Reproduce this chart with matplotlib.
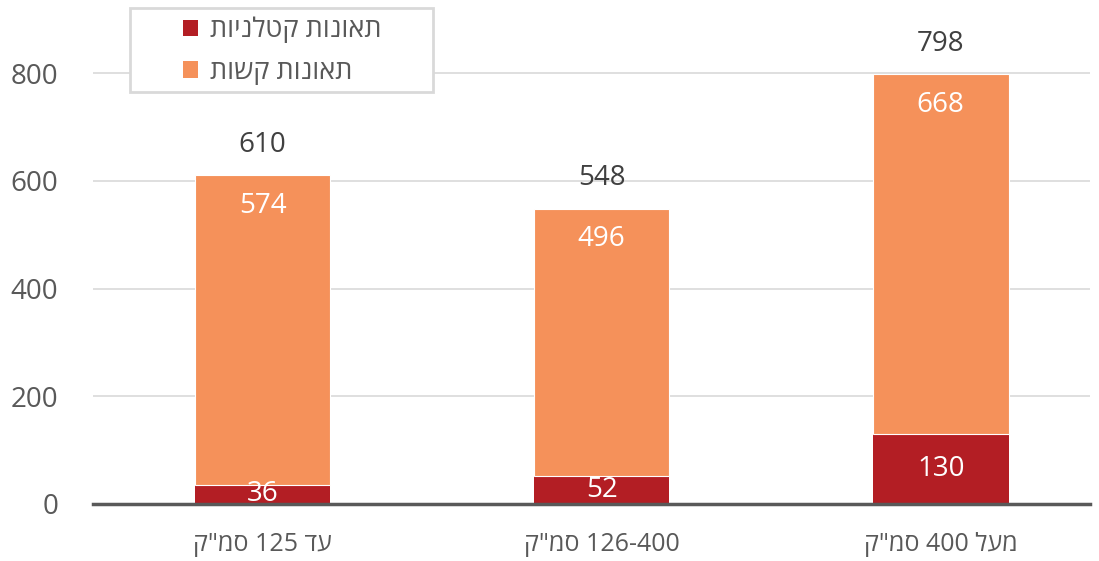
import re
import matplotlib
matplotlib.use("Agg")
import matplotlib.pyplot as plt
from matplotlib.patches import Patch, Rectangle

plt.rcParams['font.family'] = ['Open Sans', 'DejaVu Sans']

categories = ['עד 125 סמ"ק', '126-400 סמ"ק', 'מעל 400 סמ"ק']
fatal = [36, 52, 130]
severe = [574, 496, 668]
totals = [610, 548, 798]
series_names = ['תאונות קטלניות', 'תאונות קשות']
yticks = [0, 200, 400, 600, 800]

RED = '#B31E24'
ORANGE = '#F5915A'
TXT = '#595959'
W, H = 1099, 561


def vis(s):
    toks = re.findall(r'[0-9][0-9\-]*[0-9]|[0-9]|[^0-9]+', s)
    out = []
    for t in reversed(toks):
        out.append(t if t[0].isdigit() else t[::-1])
    return ''.join(out)


fig = plt.figure(figsize=(W / 100, H / 100), dpi=100)
ax = fig.add_axes([93 / W, 1 - 504 / H, (1090 - 93) / W, (504 - 5) / H])
x = list(range(len(categories)))
w = 0.4
ax.bar(x, fatal, w, color=RED, zorder=3)
ax.bar(x, severe, w, bottom=fatal, color=ORANGE, zorder=3,
       edgecolor='white', linewidth=0.8)

ax.set_ylim(0, 800 * (504 - 5) / 431)
ax.set_xlim(-0.5, 2.44)
ax.set_yticks(yticks)
ax.set_yticklabels([str(v) for v in yticks], fontsize=20, color=TXT)
ax.set_xticks(x)
ax.set_xticklabels([vis(c) for c in categories], fontsize=18, color=TXT)
ax.tick_params(axis='y', length=0, pad=25)
ax.tick_params(axis='x', length=0, pad=20)
ax.grid(axis='y', color='#D9D9D9', linewidth=1.2, zorder=0)
for s in ['top', 'right', 'left']:
    ax.spines[s].set_visible(False)
ax.spines['bottom'].set_color('#595959')
ax.spines['bottom'].set_linewidth(2.5)
ax.spines['bottom'].set_zorder(4)

for i in x:
    ax.text(i, fatal[i] / 2, str(fatal[i]), ha='center', va='center',
            fontsize=20, color='white', zorder=5)
    ax.annotate(str(severe[i]), (i, totals[i]), xytext=(0, -22),
                textcoords='offset points', ha='center', va='center',
                fontsize=20, color='white', zorder=5)
    ax.annotate(str(totals[i]), (i, totals[i]), xytext=(0, 22),
                textcoords='offset points', ha='center', va='center',
                fontsize=20, color='#404040', zorder=5)

# legend box
fig.patches.append(Rectangle((130 / W, 1 - 92 / H), (433 - 130) / W, (92 - 8) / H,
                             transform=fig.transFigure, facecolor='white',
                             edgecolor='#D9D9D9', linewidth=2, zorder=6))
handles = [Patch(facecolor=RED), Patch(facecolor=ORANGE)]
leg = fig.legend(handles, [vis(n) for n in series_names],
                 loc='upper left', bbox_to_anchor=(178 / W, 1 - 11 / H),
                 fontsize=19.5, frameon=False,
                 handlelength=0.55, handleheight=0.55, handletextpad=0.45,
                 labelcolor=TXT, borderpad=0.2, labelspacing=0.5,
                 borderaxespad=0)
leg.set_zorder(7)

fig.savefig('out.png', dpi=100)
